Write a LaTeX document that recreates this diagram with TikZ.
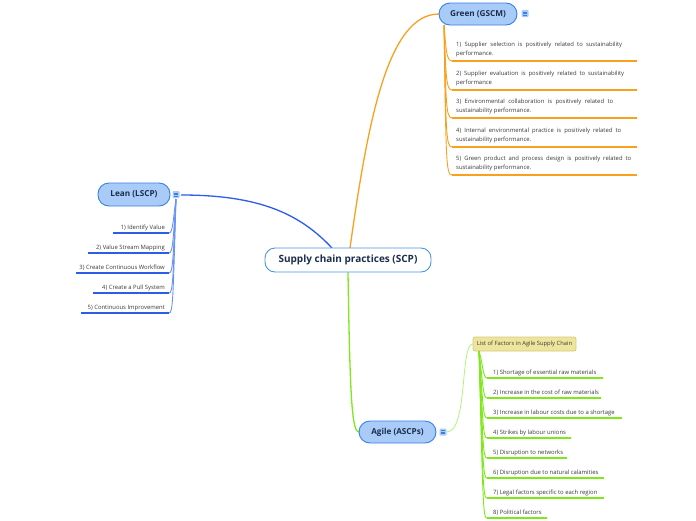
\documentclass[tikz,border=0pt]{standalone}
\usepackage{fontspec}
\setmainfont{Open Sans}
\definecolor{orng}{HTML}{F7A11E}
\definecolor{bluel}{HTML}{2D5BEA}
\definecolor{bluelt}{HTML}{6A93F5}
\definecolor{lime}{HTML}{7EE81A}
\definecolor{limelt}{HTML}{B3F27A}
\definecolor{topicfill}{HTML}{A8CBF7}
\definecolor{topicdraw}{HTML}{3A7EE6}
\definecolor{navy}{HTML}{1C2E4E}
\definecolor{maindraw}{HTML}{4C95E0}
\definecolor{khaki}{HTML}{EEE59C}
\definecolor{khakid}{HTML}{D3C97C}
\definecolor{itemtext}{HTML}{3A3A3A}
\begin{document}
\begin{tikzpicture}[x=1pt,y=-1pt,
  mainnode/.style={draw=maindraw,line width=0.9pt,fill=white,rounded corners=10pt,minimum width=166pt,minimum height=24pt,inner sep=0pt,text=navy,font=\fontsize{10}{12}\selectfont\bfseries},
  topic/.style={draw=topicdraw,line width=0.9pt,fill=topicfill,rounded corners=11pt,minimum height=22pt,inner sep=0pt,text=navy,font=\fontsize{8.2}{10}\selectfont\bfseries},
  icon/.style={fill=topicfill,rounded corners=1pt,minimum size=7pt,inner sep=0pt,
    path picture={\foreach \dy in {-1.6,0,1.6}{\draw[topicdraw,line width=0.6pt] ([shift={(-2,\dy)}]path picture bounding box.center) -- ++(4,0);}}},
  itemtxt/.style={inner sep=0pt,text=itemtext,font=\fontsize{5.9}{9}\selectfont},
  listnode/.style={draw=khakid,line width=0.7pt,fill=khaki,rounded corners=2pt,minimum width=103pt,minimum height=14pt,inner sep=0pt,text=itemtext,font=\fontsize{5.8}{7}\selectfont},
  brO/.style={orng,line width=0.9pt},
  ulO/.style={orng,line width=1.4pt},
  brB/.style={bluelt,line width=0.9pt},
  ulB/.style={bluel,line width=1.4pt},
  brG/.style={lime,line width=0.9pt},
  ulG/.style={lime,line width=1.4pt}
]
\useasboundingbox (0,0) rectangle (696,520);

% main branches
\coordinate (ostart) at (350,248);
\coordinate (bstart) at (332,248);
\coordinate (gstart) at (348,272);
\draw[orng,line width=1.3pt] (ostart) .. controls (368,120) and (388,14) .. (439,14);
\draw[bluel,line width=1.3pt] (bstart) .. controls (300,214) and (260,195) .. (181,195);
\draw[lime,line width=1.3pt] (gstart) .. controls (350,400) and (352,432) .. (359,432);

\node[mainnode] (scp) at (348,260) {Supply chain practices (SCP)};
\node[topic,minimum width=78pt] (green) at (478,14) {Green (GSCM)};
\node[topic,minimum width=72pt,minimum height=23pt] (lean) at (134,194.5) {Lean (LSCP)};
\node[topic,minimum width=77pt] (agile) at (397.5,432) {Agile (ASCPs)};
\node[icon] (gicon) at (525,13.5) {};
\node[icon] (licon) at (176,194.5) {};
\node[icon] (aicon) at (443,432) {};

% Green items
\coordinate (gb) at (444,25);
\foreach \i/\yu/\w/\la/\lb in {
  1/61/166/{1) Supplier selection is positively related to sustainability}/{performance.},
  2/90/168/{2) Supplier evaluation is positively related to sustainability}/{performance},
  3/118/157/{3) Environmental collaboration is positively related to}/{sustainability performance.},
  4/147/165/{4) Internal environmental practice is positively related to}/{sustainability performance.},
  5/175/175/{5) Green product and process design is positively related to}/{sustainability performance.}}{
  \coordinate (gu\i) at (452,\yu);
  \coordinate (ge\i) at (637,\yu);
  \draw[brO] (gb) .. controls (446,\yu-14) and (446,\yu) .. (gu\i);
  \draw[ulO] (gu\i) -- (ge\i);
  \node[itemtxt,anchor=base west] (gt\i) at (456,\yu-15) {\makebox[\w pt][s]{\la}};
  \node[itemtxt,anchor=base west] (gs\i) at (456,\yu-6) {\lb};
}

% Lean items
\coordinate (lb) at (176,199);
\foreach \i/\yu/\xs/\t in {
  1/233/113/{1) Identify Value},
  2/253/88/{2) Value Stream Mapping},
  3/273/76/{3) Create Continuous Workflow},
  4/293/93/{4) Create a Pull System},
  5/313/81/{5) Continuous Improvement}}{
  \coordinate (lu\i) at (169,\yu);
  \coordinate (le\i) at (\xs,\yu);
  \draw[brB] (lb) .. controls (173,\yu-14) and (173,\yu) .. (lu\i);
  \draw[ulB] (lu\i) -- (le\i);
  \node[itemtxt,anchor=base east] (lt\i) at (165,\yu-4) {\t};
}

% Agile list
\node[listnode] (list) at (524.5,344) {List of Factors in Agile Supply Chain};
\draw[limelt,line width=0.8pt] (aicon.east) .. controls (468,432) and (460,344) .. (list.west);
\coordinate (ab) at (479,351);
\foreach \i/\yu/\xe/\t in {
  1/378/603/{1) Shortage of essential raw materials},
  2/398/601/{2) Increase in the cost of raw materials},
  3/418/622/{3) Increase in labour costs due to a shortage},
  4/438/571/{4) Strikes by labour unions},
  5/458/567/{5) Disruption to networks},
  6/478/604/{6) Disruption due to natural calamities},
  7/498/604/{7) Legal factors specific to each region},
  8/518/547/{8) Political factors}}{
  \coordinate (au\i) at (487,\yu);
  \coordinate (ae\i) at (\xe,\yu);
  \draw[brG] (ab) .. controls (483,\yu-14) and (483,\yu) .. (au\i);
  \draw[ulG] (au\i) -- (ae\i);
  \node[itemtxt,anchor=base west] (at\i) at (493,\yu-4) {\t};
}
\end{tikzpicture}
\end{document}
